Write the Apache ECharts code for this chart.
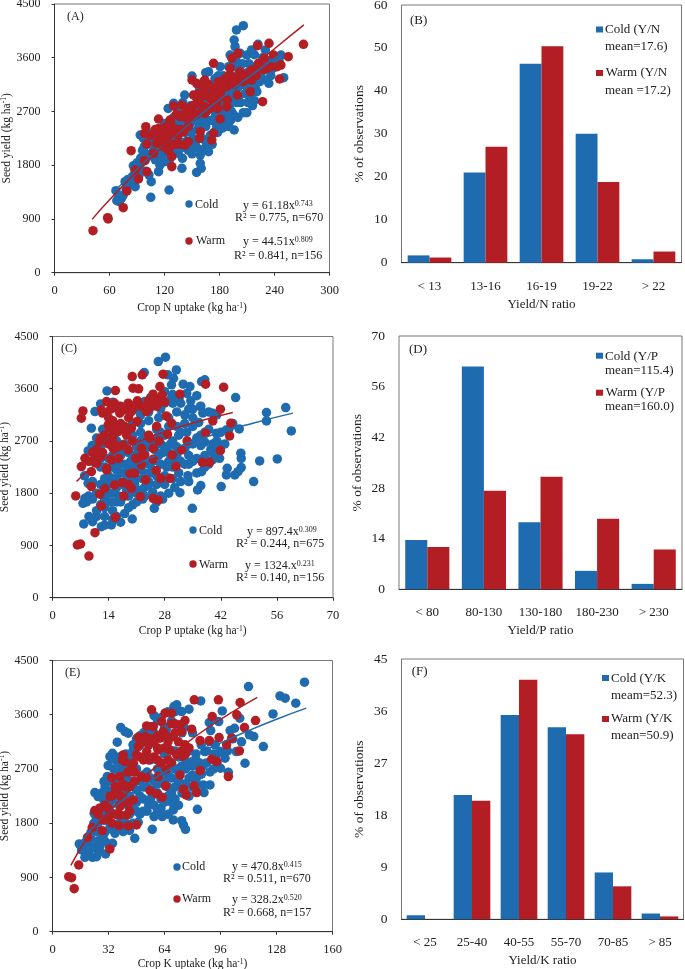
<!DOCTYPE html>
<html><head><meta charset="utf-8">
<style>html,body{margin:0;padding:0;background:#fff}#c{width:685px;height:969px}</style>
<script src="https://cdn.jsdelivr.net/npm/echarts@6/dist/echarts.min.js"></script>
</head><body><div id="c"></div>
<script>
const coldN=[[67,1373],[68,1206],[71,1190],[73,1245],[75,1300],[77,1524],[80,1560],[83,1480],[85,1610],[86,1790],[88,1440],[88,1700],[90,1840],[92,1620],[93,1760],[94,1920],[93.5,2306],[96,2050],[98,2110],[99,1880],[100,1700],[102,1980],[103,1640],[105.5,1524],[105,1262],[104,2200],[106,2340],[108,2050],[110,2250],[110,1890],[113.5,1692],[114,2150],[115,2400],[117,1950],[118,2300],[120,2500],[120,1860],[122,2100],[124,2752],[125,1385],[125,2420],[126,1980],[128,2250],[130,2836],[130,2600],[131,2050],[133,2400],[135,2700],[136,2200],[138,2500],[139,1748],[139.6,1915],[140,2850],[141,2100],[142,2976],[143,2350],[145,2650],[146,2050],[148,2500],[149,2800],[150,3294],[150,1990],[151,2250],[153,2700],[154,2950],[155,1680],[155,2100],[156,2400],[158,3100],[159,1970],[159,1831],[160,1748],[160,2600],[161,2250],[162,2850],[163,3200],[164,2083],[165,2450],[166,2700],[168,2027],[168,3367],[165,3350],[170,2300],[170,3000],[172,2550],[173,2800],[174,2350],[175,3250],[176,2650],[177,2450],[178,2950],[180,2500],[180.7,3450],[181,3100],[182,2750],[183,2420],[184,3300],[185,2600],[186,2900],[187,2500],[188,3150],[189,2700],[190,3450],[191,2800],[191.6,3646],[192,2550],[193,3000],[194,3250],[195,2650],[196,2390],[196,3897],[197,3785],[198,2900],[198.5,4065],[198,3560],[200,2600],[200,3100],[201,3400],[202.5,3674],[203,2850],[205,3200],[206,4137],[206,2680],[208,3000],[209.8,2680],[209.8,3646],[210,3350],[212,3500],[213,2950],[214,3150],[215,3730],[216,2797],[216,3450],[218,3650],[218,2880],[220,3250],[220.7,3032],[222,3825],[223,3500],[225,3300],[227,3600],[230,3730],[231.6,3227],[233.8,3171],[235,3550],[238,3420],[240,3600],[243,3500],[247,3646],[250,3266],[95,1850],[97,2250],[101,2300],[107,1950],[109,2150],[112,2050],[116,2250],[119,2050],[121,2350],[123,2200],[127,2150],[129,2450],[132,2300],[134,2550],[137,2350],[139,2650],[142,2500],[144,2200],[147,2750],[149,2350],[152,2550],[154,2200],[157,2750],[158,2500],[161,2950],[163,2600],[165,2200],[167,3000],[169,2550],[171,2750],[173,3150],[175,2600],[177,2850],[179,3300],[181,2650],[183,2900],[185,3150],[187,2700],[189,3000],[191,3300],[193,2700],[195,3500],[197,3100],[199,2850],[201,2950],[203,3300],[205,3500],[207,3150],[209,3300],[211,2850],[213,3350],[215,3000],[217,3250],[219,3100],[221,3400],[224,3200],[226,3450],[229,3400],[233,3450],[236,3300],[241,3450],[245,3550],[178,2350],[186,2450],[190,2450],[172,2150],[160,2050],[150,2150],[145,2400],[135,2000],[125,1850],[115,1800],[100,1950],[96,1700],[90,1600],[84,1560],[78,1420],[70,1270]];
const warmN=[[42,703],[58,921],[58.5,900],[75,1089],[79,1368],[83.6,2044],[91.6,1569],[88,1720],[98,1876],[100.7,1692],[99.6,2445],[98,2334],[100.7,2155],[113.5,2574],[113.5,2417],[111.6,2166],[108,2000],[119,2334],[119,2110],[126,2557],[128,1943],[128,1775],[130,2792],[122.5,2222],[126,2110],[139,2808],[137,2613],[142.5,2138],[146,2194],[140.7,2362],[150,3227],[155,3171],[164,3227],[162.5,3104],[151.6,2976],[155,2836],[150,2780],[159,2362],[158,2250],[173.5,3506],[179,3199],[173.5,3088],[168,2948],[164,2668],[173.5,2334],[171.6,2222],[180.7,2574],[188,2780],[188.7,2892],[191.6,3422],[193.5,3590],[200,3674],[199.6,2976],[195,3283],[202.5,3367],[213.5,3032],[221.5,3802],[227,2864],[234,3841],[239,3646],[245.5,3244],[247,3478],[255,3618],[271.6,3825],[229,3590],[222.5,3506],[231.6,3422],[213.5,3367],[215,3227],[206,3199],[188,3115],[180.7,3032],[177,2864],[158,2900],[164,2780],[122,2450],[118,2250],[128,2400],[133,2650],[143,2600],[146,2450],[150,2600],[160,2950],[170,2750],[182,2950],[192,3200],[207,3300],[218,3350],[225,3450],[105,2300],[110,2400],[115,2300],[120,2400],[124,2300],[127,2500],[130,2350],[133,2400],[135,2300],[138,2400],[141,2650],[145,2750],[148,2650],[152,2800],[155,2650],[157,3000],[161,2700],[165,3000],[168,3150],[171,2900],[175,3000],[178,2750],[183,3100],[186,3250],[190,3300],[196,3150],[200,3200],[204,3250],[210,3250],[212,3300],[216,3400],[220,3300],[228,3400],[236,3450],[243,3450],[113,2200],[124,2050],[131,2150],[136,2150]];
const coldP=[[28.2,4144],[26.4,4069],[30.9,3925],[22.9,3879],[28.8,3839],[29.7,3667],[30.2,3780],[32.6,3678],[34.3,3638],[38,3753],[37.2,3724],[45.7,3448],[58.2,3276],[53.4,3190],[53.4,3046],[59.6,2874],[46.6,2908],[43.4,2891],[40.9,2833],[40,3178],[56.1,2391],[51.7,2356],[50.2,2000],[47,2489],[47.1,2402],[47.1,2241],[46.3,2172],[45.5,2115],[43.6,2230],[43.4,2115],[42.1,1914],[41.7,2402],[40,2380],[37.2,2172],[37,1931],[36.2,1856],[34.9,1540],[33.8,2103],[31.8,1810],[25.4,1540],[19.9,1356],[14.7,1253],[12.2,1224],[7.8,1270],[10,1310],[9.1,1397],[7.6,1626],[8.1,1713],[8.9,1971],[9.7,2920],[9.9,2621],[8.9,2529],[10.6,3207],[12,3339],[13.6,3563],[15.1,3368],[34.5,3391],[36.9,3293],[33.5,3520],[31.6,3440],[30,3350],[36,3480],[37.5,3180],[36.5,3020],[35,2950],[33,3150],[31,3200],[29,3100],[27,3250],[25,3300],[23,3380],[21,3250],[24,3050],[22,3000],[20,2800],[26,2900],[28,2800],[30,2700],[32,2850],[34,2650],[36,2750],[38,2680],[39.5,2550],[38,2450],[36,2400],[34,2450],[33,2300],[31.5,2150],[30,2050],[28,1950],[28.5,2250],[26,2100],[26.5,2450],[24,2300],[24,2600],[22,2200],[22,2700],[20,2100],[20,2450],[18,2000],[18,2300],[18,2650],[16,1900],[16,2200],[16,2500],[16,2850],[14,1800],[14,2100],[14,2400],[14,2950],[12,1600],[12,1950],[12,2250],[12,2600],[12.5,2900],[10,1700],[10,2000],[10,2350],[8,2100],[8.5,1650],[13,1400],[15,1500],[17,1650],[19,1750],[21,1800],[23,1900],[25,1820],[27,1750],[15,1350],[18,1450],[20,1600],[22.5,1700],[41,2550],[39,2300],[37,2620],[42,2850],[44,2900],[45,3000],[24.5,3450],[26.5,3100],[28,3350],[29.5,3420],[35,3100],[39,3200],[41,3150],[31,2450],[29,2500],[27,2650],[25,2200],[23,2480],[21,2050],[19,2250],[17,2450],[15,2250],[13,2050],[19,2050],[17,2150],[15,2050],[11,1500],[13,1550],[14.5,1650],[16.5,1750],[18.5,1850],[20.5,1950],[22.5,2050],[24.5,2150],[13,1700],[15,1800],[17,1950],[19,2150],[21,2300],[23,2150],[25,2350],[27,2300],[29,2350],[31,2600],[33,2550],[35,2650],[37,2800],[39,2900],[41,2700],[43,2650],[11,1800],[13,2250],[15,2450],[17,2300],[19,2500],[21,2600],[23,2750],[25,2650],[27,2850],[29,2950],[31,2950],[33,3000],[35,3250],[37,3300],[16,1650],[18,1750],[20,1900],[22,1850],[24,1950],[26,1950],[28,2100],[30,2250],[32,2350],[34,2300],[15.5,2350],[17.5,2550],[19.5,2350],[21.5,2500],[23.5,2650],[25.5,2550],[27.5,2500],[29.5,2650],[31.5,2800],[33.5,2850],[20,3000],[22,3150],[24,3200],[26,3350],[28,3550],[30,3500],[32,3350],[34,3250],[18,2900],[16,2700],[14,2700],[12,2400],[11,2750],[10,2550],[9,1750],[11,1400],[13,1250],[16,1400],[17,1300],[19,1550],[21,1650],[23,1750],[26,1650],[27.5,1700],[29,1800],[30.5,1900],[32,2000],[34,2000],[36,2150],[38,2250],[35,2350],[40,2500],[42,2600],[40,2650],[38,2850],[24,2000],[22,2300],[20,2250],[18,2150],[16,2050],[14,1950],[22,2850],[26,2750],[28,2600],[30,2400]];
const warmP=[[9.1,718],[6.2,908],[7,925],[10.6,1121],[5.8,1753],[15.7,1385],[12.2,1580],[7.2,2259],[8.1,2402],[7.6,3218],[7.2,3092],[9.7,1914],[9.7,2172],[11,2316],[9,2350],[11.8,2690],[11.1,2557],[11.8,1782],[13,1885],[13.5,2230],[14.7,2374],[15.1,2575],[15.5,1943],[15.7,3569],[13.5,3379],[12.2,3236],[13.5,3178],[13.9,2977],[15.1,2805],[16,3264],[19.9,3810],[22.4,3839],[27.6,3850],[20.1,3609],[21.5,3598],[26.8,3638],[31.8,3506],[38.2,3678],[42.7,3626],[41.9,3247],[40,3046],[44.5,3006],[44.2,2787],[38.2,2833],[33.6,2701],[41.9,2534],[37.4,2333],[39.2,2333],[32.2,2546],[30.8,2259],[29.9,2460],[29.3,2057],[27,2057],[25.9,2190],[23.2,2029],[21.9,1741],[17.8,1753],[19.7,1885],[17.5,1983],[25.1,1713],[26.4,1684],[25.1,2385],[25.1,2575],[24.3,2747],[26.6,2701],[28.7,2816],[29.7,3006],[28.4,3132],[27.4,3494],[25.1,3506],[28,3368],[23.4,3207],[21.2,3391],[18.9,3351],[19.7,3207],[21.1,3034],[19.7,2920],[17.6,2920],[17.6,2632],[18.9,2546],[22.2,2575],[20.8,2402],[22.2,2431],[22.2,2287],[19.3,2144],[20.5,2144],[16,2603],[16.4,2862],[14.3,2920],[16.8,3178],[18,3240],[25.5,3408],[23.9,3351],[10,2500],[12,2450],[13.5,2200],[14,2650],[15,3050],[17,3000],[18.5,2800],[20,3300],[24,3400],[26,2950],[14.5,3250],[19,1950],[12.5,3180],[26.8,3430],[11,2400],[12.5,2500],[13,2800],[15,2700],[16,2950],[18,2950],[19,3100],[20,3250],[21,3350],[22,3300],[24,3250],[26,3300],[17,3300],[15.5,3350],[14,3100],[12,2750],[16.5,2400],[24,2800],[23,2450],[20,2700]];
const coldK=[[144,4140],[112,4068],[130,3913],[133,3875],[139,3791],[126,3614],[120.5,3072],[115,3238],[112.5,3266],[110,2795],[107,3542],[104,3376],[101.5,3338],[105,2989],[97,3664],[95,3487],[89.6,3470],[90.4,3338],[84.7,3830],[78,3692],[73.8,3653],[71,3764],[69.4,3736],[58,3587],[39,3387],[41.4,3321],[43.3,3293],[37,3144],[34.3,2961],[32.8,2906],[31.8,2756],[31.3,2574],[29.4,2491],[24.2,2308],[26,2242],[23.8,1965],[23.6,1799],[15.3,1456],[16.6,1356],[18.5,1234],[22.9,1234],[25.2,1245],[30.3,1290],[34.3,1467],[35.7,1633],[47,1550],[40.4,1661],[49,1816],[57,1699],[62.7,1910],[58,1910],[69,1854],[69,2020],[73.8,1843],[74.8,1771],[76,1699],[82.8,2031],[86.6,2308],[90,2435],[86.2,2435],[85.2,2618],[96,2712],[100.5,2646],[98.6,2878],[96,2989],[87,2989],[82,2950],[79,2800],[76,3000],[74,3300],[68,3500],[65,3350],[60,3500],[55,3250],[50,3100],[46,3000],[42,2950],[38,2900],[35,2700],[33,2500],[31,2350],[29,2200],[27,2050],[25,1900],[22,1550],[20,1420],[23,1400],[26,1500],[28,1650],[30,1850],[33,1750],[36,1950],[38,2150],[40,2350],[43,2100],[46,1800],[44,1680],[48,2000],[50,2250],[52,2000],[55,2100],[57,2350],[60,2000],[62,2200],[64,2500],[66,2250],[68,2150],[70,2400],[72,2650],[74,2450],[76,2300],[78,2550],[80,2750],[82,2500],[84,2800],[78,3000],[72,2900],[68,2800],[64,2950],[60,2700],[56,2850],[52,2600],[48,2700],[45,2500],[42,2600],[39,2650],[35,2300],[33,2150],[29,1600],[26,1350],[20,1300],[37,2450],[54,2400],[66,2600],[70,3000],[94,2800],[100,3000],[103,3200],[108,3150],[93,3100],[88,3000],[36,2850],[34,2880],[20,1500],[22,1650],[24,1750],[26,1800],[28,1900],[30,2000],[32,2100],[34,2200],[36,2350],[38,2500],[40,2750],[42,2800],[44,2900],[46,3100],[48,3200],[50,3250],[52,3300],[54,3350],[56,3400],[58,3300],[62,3550],[64,3400],[66,3650],[70,3650],[75,3400],[80,3300],[85,3100],[90,3150],[92,2950],[26,1650],[28,1500],[30,1650],[32,1450],[34,1700],[36,1750],[38,1800],[40,1900],[42,1800],[44,1950],[46,2050],[48,2150],[50,1950],[52,2200],[54,2000],[56,2200],[58,2100],[60,2300],[62,2050],[64,2150],[66,1950],[68,2300],[70,2200],[72,2100],[74,2300],[76,2450],[78,2250],[80,2400],[82,2350],[84,2600],[86,2750],[88,2800],[90,2650],[92,2700],[94,2950],[34,2300],[36,2550],[38,2750],[40,2500],[42,2350],[44,2250],[46,2450],[48,2350],[50,2500],[52,2400],[54,2650],[56,2550],[58,2500],[60,2450],[62,2700],[64,2650],[66,2400],[68,2550],[70,2700],[72,2500],[74,2750],[76,2700],[78,2800],[80,2600],[82,2850],[30,1500],[24,1400],[21,1350],[27,1400],[28,2300],[30,2400],[32,2200],[28,2050]];
const warmK=[[9.3,913],[10.9,897],[12.4,714],[15,1107],[20,1566],[22.7,1727],[24.2,2009],[27,2048],[28.4,1677],[32.8,1373],[38.1,1760],[43.3,1755],[48,1771],[31.8,1882],[29,1854],[42.3,1937],[38.5,1937],[33.8,1965],[31.8,2048],[32.8,2242],[33.8,2557],[38.5,2574],[35.7,2408],[36.6,2297],[44.2,2408],[46.2,2186],[43.3,2131],[38.5,2076],[40.4,2933],[41.4,2823],[45.2,2712],[46.2,2795],[49,3227],[49,3072],[48,2933],[53.8,3415],[56.6,3681],[57.6,3404],[52.8,3238],[53.8,2989],[50.9,2574],[53.8,2546],[55.7,2341],[59.5,2286],[62.7,2231],[60.4,2574],[64.6,2419],[54.7,2878],[60.4,3017],[61.4,3210],[62.4,3487],[64.3,3625],[68,3625],[63.3,3321],[69,3238],[67,3017],[71,2933],[72.9,2601],[74.8,2364],[76.3,2269],[81,3847],[79.5,3360],[72.9,3432],[75.7,3504],[73.8,3321],[75.7,3100],[84.3,3172],[89.6,3172],[84.3,2673],[81,2419],[82.4,2308],[91,2862],[94.8,3847],[91.3,3570],[95.2,3222],[93.8,2823],[100.5,2574],[99.5,3100],[102.4,3211],[107.2,3803],[105.3,3598],[109.7,3388],[106.8,3000],[116,3504],[36,2300],[40,2450],[44,2650],[47,2500],[52,2850],[56,3200],[58,2900],[62,2800],[65,2700],[68,2800],[70,3300],[72,2950],[66,3150],[60,3250],[26,1950],[30,2100],[34,2250],[37,2350],[39,2250],[41,2200],[42,2400],[36,1950],[34,1800],[44,2000],[40,2850],[43,2650],[47,2650],[50,2900],[51,3150],[55,3100],[55,2850],[58,3150],[60,3050],[60,2850],[64,3050],[65,3250],[66,2850],[68,3450],[70,3450],[72,3150],[74,3000],[76,2950],[78,3050],[75,2900]];

const trendColdN=[[70,1436],[100,1875],[130,2274],[160,2655],[190,3018],[220,3367],[248,3677]];
const trendWarmN=[[41,893],[60,1221],[90,1697],[120,2140],[150,2564],[180,2971],[210,3367],[240,3750],[272,4150]];
const trendColdP=[[12,1933],[20,2262],[30,2568],[40,2806],[50,3006],[60,3180]];
const trendWarmP=[[6,2003],[10,2254],[15,2475],[20,2645],[25,2785],[30,2905],[35,3010],[40,3104],[45,3190]];
const trendColdK=[[16,1488],[32,1984],[48,2348],[64,2645],[80,2902],[96,3129],[112,3336],[128,3526],[145,3710]];
const trendWarmK=[[10.5,1100],[20,1558],[32,1990],[48,2457],[64,2853],[80,3205],[96,3525],[117,3888]];

const catsN=['< 13','13-16','16-19','19-22','> 22'];
const coldYN=[1.7,21,46.3,30,0.8];
const warmYN=[1.2,27,50.4,18.8,2.6];
const catsP=['< 80','80-130','130-180','180-230','> 230'];
const coldYP=[13.6,61.6,18.5,5.1,1.5];
const warmYP=[11.7,27.2,31.1,19.5,11];
const catsK=['< 25','25-40','40-55','55-70','70-85','> 85'];
const coldYK=[0.7,21.5,35.3,33.2,8.1,1.0];
const warmYK=[0,20.5,41.4,32,5.7,0.5];

const BLUE='#1f6bb0',RED='#b21e24',INK='#222',FONT='"Liberation Serif","Times New Roman",serif';
const rich={s:{fontSize:7.5,fontFamily:FONT,color:INK,verticalAlign:'top',lineHeight:13,padding:[0,0,4,0]},t:{fontSize:11.5,fontFamily:FONT,color:INK,lineHeight:13}};
const grids=[],xAxes=[],yAxes=[],series=[],graphic=[];
const plain=v=>String(v);
function txt(x,y,text,size){
  const st={x,y,text,fill:INK,fontFamily:FONT,fontSize:size||12,verticalAlign:'middle',align:'left'};
  if(text.includes('|'))st.rich={t:{fontSize:size||12,fontFamily:FONT,fill:INK},s:{fontSize:8,fontFamily:FONT,fill:INK,verticalAlign:'top',padding:[0,0,5,0]}};
  graphic.push({type:'text',silent:true,z:20,style:st});
}
function axisBase(size,tick){return{axisLine:{onZero:false,lineStyle:{color:'#333',width:1}},axisTick:{length:tick,lineStyle:{color:'#333'}},splitLine:{show:false},axisLabel:{color:INK,fontFamily:FONT,fontSize:size,formatter:plain}};}
function gridOf(g){return{left:g[0],top:g[1],width:g[2],height:g[3],show:true,borderColor:'#777',borderWidth:1,backgroundColor:'transparent',containLabel:false,outerBoundsMode:'none'};}
function scatterPanel(g,xMax,xInt,xName,xGap,cold,warm,tc,tw){
  const i=grids.length;
  grids.push(gridOf(g));
  const xb=axisBase(12.5,3);xb.axisLabel.margin=12;
  xAxes.push(Object.assign(xb,{gridIndex:i,type:'value',min:0,max:xMax,interval:xInt,name:xName,nameLocation:'middle',nameGap:xGap,nameTextStyle:{rich}}));
  const yb=axisBase(12,3);yb.axisLabel.margin=14;
  yAxes.push(Object.assign(yb,{gridIndex:i,type:'value',min:0,max:4500,interval:900,name:'{t|Seed yield (kg ha}{s|-1}{t|)}',nameLocation:'middle',nameGap:41,nameTextStyle:{rich}}));
  const sc=(name,data,color)=>({type:'scatter',name,xAxisIndex:i,yAxisIndex:i,data,symbolSize:9.5,itemStyle:{color,opacity:1},silent:true});
  const ln=(name,data,color)=>({type:'line',name,xAxisIndex:i,yAxisIndex:i,data,smooth:true,symbol:'none',lineStyle:{color,width:1.5},z:5,silent:true});
  series.push(sc('Cold',cold,BLUE),sc('Warm',warm,RED),ln('Cold fit',tc,BLUE),ln('Warm fit',tw,RED));
}
function barPanel(g,cats,yMax,yInt,xName,cold,warm,cName,wName){
  const i=grids.length;
  grids.push(gridOf(g));
  const xb=axisBase(13,4.5);xb.axisLabel.margin=17;xb.axisLabel.interval=0;
  xAxes.push(Object.assign(xb,{gridIndex:i,type:'category',data:cats,axisTick:{length:4.5,alignWithLabel:false,lineStyle:{color:'#333'}},name:xName,nameLocation:'middle',nameGap:35,nameTextStyle:{color:INK,fontFamily:FONT,fontSize:13}}));
  const yb=axisBase(13.5,4);yb.axisLabel.margin=14;
  yAxes.push(Object.assign(yb,{gridIndex:i,type:'value',min:0,max:yMax,interval:yInt,name:'% of observations',nameLocation:'middle',nameGap:35,nameTextStyle:{color:INK,fontFamily:FONT,fontSize:13.5}}));
  const b=(name,data,color)=>({type:'bar',name,xAxisIndex:i,yAxisIndex:i,data,barGap:0,barCategoryGap:'22%',itemStyle:{color},silent:true});
  series.push(b(cName,cold,BLUE),b(wName,warm,RED));
}
scatterPanel([54.5,4,275,268.7],300,60,'{t|Crop N uptake (kg ha}{s|-1}{t|)}',29,coldN,warmN,trendColdN,trendWarmN);
barPanel([401.5,5,280,257.7],catsN,60,10,'Yield/N ratio',coldYN,warmYN,'Cold (Y/N mean=17.6)','Warm (Y/N mean =17.2)');
scatterPanel([52.5,336.5,280.5,261.2],70,14,'{t|Crop P uptake (kg ha}{s|-1}{t|)}',27,coldP,warmP,trendColdP,trendWarmP);
barPanel([399,336,283,253.3],catsP,70,14,'Yield/P ratio',coldYP,warmYP,'Cold (Y/P mean=115.4)','Warm (Y/P mean=160.0)');
scatterPanel([52.5,660.5,280,271.2],160,32,'{t|Crop K uptake (kg ha}{s|-1}{t|)}',26,coldK,warmK,trendColdK,trendWarmK);
barPanel([401.5,659,282,260.3],catsK,45,9,'Yield/K ratio',coldYK,warmYK,'Cold (Y/K meam=52.3)','Warm (Y/K mean=50.9)');

function key(kind,x,y,color){
  if(kind==='dot')graphic.push({type:'circle',silent:true,z:20,shape:{cx:x,cy:y,r:3.7},style:{fill:color}});
  else graphic.push({type:'rect',silent:true,z:20,shape:{x:x,y:y-3,width:7,height:6},style:{fill:color}});
}
const annotations=[
 [67,17,'(A)'],[195,205,'Cold'],[243,206,'{t|y = 61.18x}{s|0.743}'],[235,218,'R² = 0.775, n=670'],[196,241,'Warm'],[243,242,'{t|y = 44.51x}{s|0.809}'],[234,256,'R² = 0.841, n=156'],
 [61,349,'(C)'],[199,531,'Cold'],[247,532,'{t|y = 897.4x}{s|0.309}'],[236,544,'R² = 0.244, n=675'],[199,565,'Warm'],[245,566,'{t|y = 1324.x}{s|0.231}'],[236,578,'R² = 0.140, n=156'],
 [65,673,'(E)'],[182,867,'Cold'],[232,867,'{t|y = 470.8x}{s|0.415}'],[223,879,'R² = 0.511, n=670'],[182,899,'Warm'],[232,900,'{t|y = 328.2x}{s|0.520}'],[223,913,'R² = 0.668, n=157']];
annotations.forEach(a=>txt(a[0],a[1],a[2],12));
const barAnnotations=[
 [410,21,'(B)'],[605,30,'Cold (Y/N'],[605,47,'mean=17.6)'],[605.7,73,'Warm (Y/N'],[605,91,'mean =17.2)'],
 [409,350,'(D)'],[605,357,'Cold (Y/P'],[605,371,'mean=115.4)'],[605.7,393,'Warm (Y/P'],[605,407,'mean=160.0)'],
 [411.7,672,'(F)'],[611,679,'Cold (Y/K'],[611,696,'meam=52.3)'],[611,719,'Warm (Y/K'],[611,736,'mean=50.9)']];
barAnnotations.forEach(a=>txt(a[0],a[1],a[2],13));
key('dot',189,204,BLUE);key('dot',189,241,RED);key('dot',193,530,BLUE);key('dot',193,564,RED);key('dot',177,867,BLUE);key('dot',177,899,RED);
key('rect',596,29.5,BLUE);key('rect',596,73,RED);key('rect',596,355.7,BLUE);key('rect',596,392.7,RED);key('rect',602,678,BLUE);key('rect',602,719,RED);

const chart=echarts.init(document.getElementById('c'),null,{renderer:'canvas'});
chart.setOption({animation:false,backgroundColor:'#fff',textStyle:{fontFamily:FONT},grid:grids,xAxis:xAxes,yAxis:yAxes,series,graphic});
</script></body></html>
